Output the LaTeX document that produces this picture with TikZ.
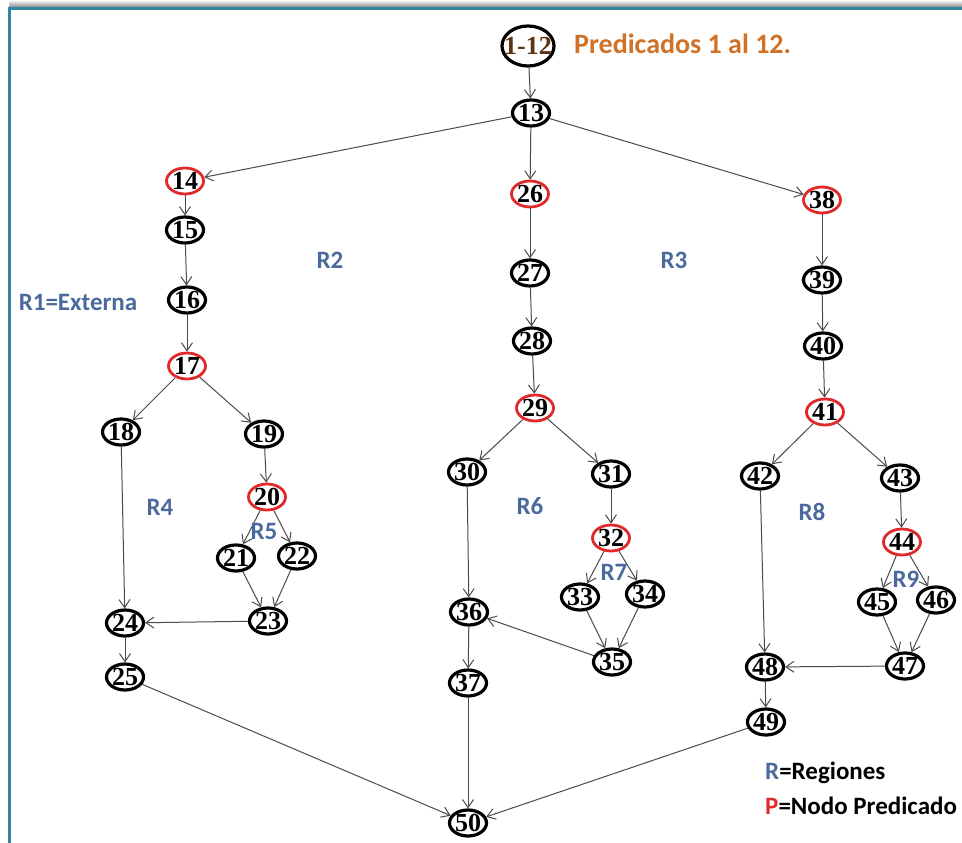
\documentclass[tikz,border=0pt]{standalone}
\usepackage{fontspec}
\setmainfont{Liberation Serif}
\newfontfamily\calfont{Carlito}
\usetikzlibrary{shapes.geometric,arrows.meta}
\definecolor{framecol}{HTML}{31879E}
\definecolor{regcol}{HTML}{4A6A9E}
\definecolor{predred}{HTML}{E02A2A}
\definecolor{titleor}{HTML}{CF7228}
\definecolor{edgecol}{HTML}{4A4A4A}
\tikzset{
  nd/.style={ellipse, draw=black, line width=3.2pt, minimum width=37pt,
    minimum height=26pt, inner sep=0pt,
    font=\fontsize{26}{26}\selectfont\bfseries},
  pnd/.style={nd, draw=predred, line width=2.8pt},
  arr/.style={-{Straight Barb[length=8pt,width=11pt]}, line width=1pt, draw=edgecol},
  reg/.style={font=\calfont\fontsize{25}{25}\selectfont\bfseries, text=regcol, inner sep=0pt},
  leg/.style={font=\calfont\fontsize{25}{25}\selectfont\bfseries, text=black, inner sep=0pt, anchor=west}
}
\begin{document}
\begin{tikzpicture}[x=1pt,y=-1pt]
\useasboundingbox (0,0) rectangle (962,843);
% frame with a soft shadow along the top
\shade[top color=white, bottom color=black!45] (9,0) rectangle (962,7);
\draw[framecol, line width=3pt] (9.5,843) -- (9.5,8.5) -- (962,8.5);

% start node (label set on top of a fixed-size ellipse) and heading
\node[nd, minimum width=52pt, minimum height=40pt] (n1) at (528,46) {};
\node[font=\fontsize{26}{26}\selectfont\bfseries, text=titleor!45!black, inner sep=0pt] (n1t) at (n1.center) {1-12};
\node[font=\calfont\fontsize{28}{28}\selectfont\bfseries, text=titleor, anchor=west, inner sep=0pt] (title) at (574,44) {Predicados 1 al 12.};

% nodes
\node[nd]  (n13) at (531,113) {13};
\node[pnd] (n14) at (185,181) {14};
\node[nd]  (n15) at (185,230) {15};
\node[nd]  (n16) at (187,300) {16};
\node[pnd] (n17) at (187,366) {17};
\node[nd]  (n18) at (121,432) {18};
\node[nd]  (n19) at (264,434) {19};
\node[pnd] (n20) at (267,497) {20};
\node[nd]  (n21) at (236,558) {21};
\node[nd]  (n22) at (297,556) {22};
\node[nd]  (n23) at (268,621) {23};
\node[nd]  (n24) at (125,623) {24};
\node[nd]  (n25) at (125,677) {25};
\node[pnd] (n26) at (530,194) {26};
\node[nd]  (n27) at (530,273) {27};
\node[nd]  (n28) at (532,341) {28};
\node[pnd] (n29) at (535,408) {29};
\node[nd]  (n30) at (467,472) {30};
\node[nd]  (n31) at (611,474) {31};
\node[pnd] (n32) at (611,538) {32};
\node[nd]  (n33) at (580,597) {33};
\node[nd]  (n34) at (645,594) {34};
\node[nd]  (n35) at (612,662) {35};
\node[nd]  (n36) at (469,612) {36};
\node[nd]  (n37) at (468,683) {37};
\node[pnd] (n38) at (822,200) {38};
\node[nd]  (n39) at (822,280) {39};
\node[nd]  (n40) at (823,346) {40};
\node[pnd] (n41) at (825,412) {41};
\node[nd]  (n42) at (760,476) {42};
\node[nd]  (n43) at (900,478) {43};
\node[pnd] (n44) at (902,542) {44};
\node[nd]  (n45) at (877,602) {45};
\node[nd]  (n46) at (936,600) {46};
\node[nd]  (n47) at (905,666) {47};
\node[nd]  (n48) at (765,667) {48};
\node[nd]  (n49) at (766,722) {49};
\node[nd]  (n50) at (468,823) {50};

% edges
\foreach \a/\b in {n1/n13, n13/n14, n13/n26, n13/n38,
  n14/n15, n15/n16, n16/n17, n17/n18, n17/n19, n18/n24, n19/n20,
  n20/n21, n20/n22, n21/n23, n22/n23, n23/n24, n24/n25, n25/n50,
  n26/n27, n27/n28, n28/n29, n29/n30, n29/n31, n30/n36, n31/n32,
  n32/n33, n32/n34, n33/n35, n34/n35, n35/n36, n36/n37, n37/n50,
  n38/n39, n39/n40, n40/n41, n41/n42, n41/n43, n42/n48, n43/n44,
  n44/n45, n44/n46, n45/n47, n46/n47, n47/n48, n48/n49, n49/n50}
  \draw[arr] (\a) -- (\b);

% region labels
\node[reg] (r1) at (78,302) {R1=Externa};
\node[reg] (r2) at (330,260) {R2};
\node[reg] (r3) at (674,260) {R3};
\node[reg] (r4) at (160,507) {R4};
\node[reg] (r5) at (264,531) {R5};
\node[reg] (r6) at (530,506) {R6};
\node[reg] (r7) at (614,572) {R7};
\node[reg] (r8) at (812,512) {R8};
\node[reg] (r9) at (906,579) {R9};

% legend
\node[leg] (lr) at (765,773) {\textcolor{regcol}{R}=Regiones};
\node[leg] (lp) at (765,806) {\textcolor{predred}{P}=Nodo Predicado};
\end{tikzpicture}
\end{document}
